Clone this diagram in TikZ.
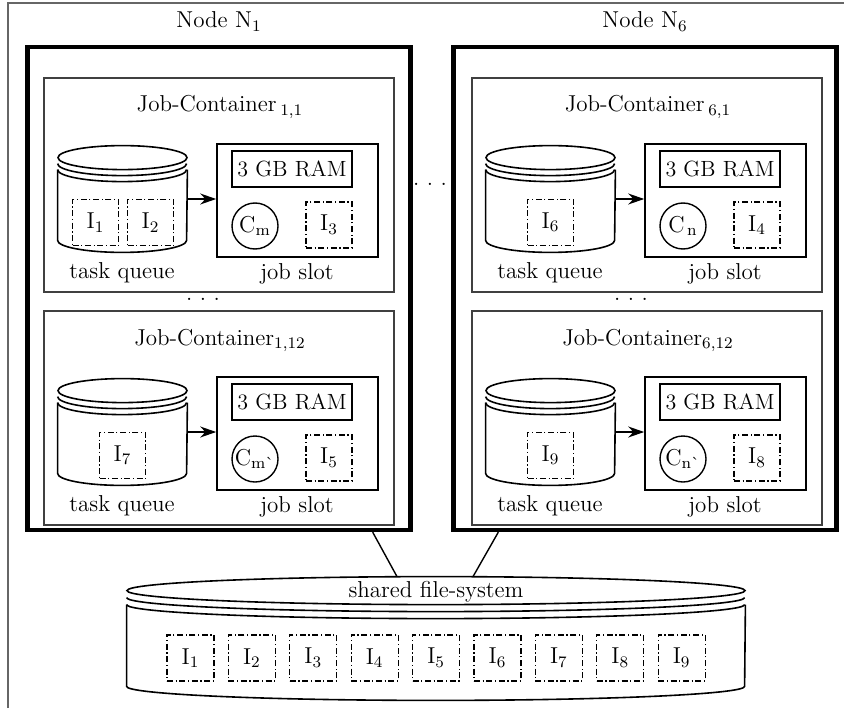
\documentclass[tikz,border=0pt]{standalone}
\usepackage{tikz}
\usetikzlibrary{positioning,calc,arrows.meta}

% storage drum drawn round an empty node: name, x radius, y radius, rim step
\newcommand{\tank}[4]{%
  \draw[tank line] ($(#1.north)+(0,-#3)$) ellipse [x radius=#2, y radius=#3];
  \foreach \k in {1,2}
    \draw[tank line] ($(#1.north west)+(0,-#3-\k*#4)$) arc [start angle=180, end angle=360, x radius=#2, y radius=#3];
  \draw[tank line] ($(#1.north west)+(0,-#3-2*#4)$) -- ($(#1.south west)+(0,#3)$)
    arc [start angle=180, end angle=360, x radius=#2, y radius=#3] -- ($(#1.north east)+(0,-#3-2*#4)$);
}

\begin{document}
\begin{tikzpicture}[x=0.5pt, y=0.5pt, font=\fontsize{11.5}{14}\selectfont,
  node box/.style={draw, line width=2.2pt, minimum width=191.5pt, minimum height=241.5pt},
  container/.style={draw=black!75, line width=0.6pt, minimum width=175pt, minimum height=107pt},
  queue/.style={minimum width=64.5pt, minimum height=53pt, inner sep=0pt},
  tank line/.style={line width=0.8pt},
  slot/.style={draw, line width=0.8pt, minimum width=80.5pt, minimum height=56.5pt},
  ram/.style={draw, line width=0.8pt, minimum width=60pt, minimum height=18pt, inner sep=0pt, font=\fontsize{11}{13}\selectfont},
  core/.style={draw, circle, line width=0.7pt, minimum size=23pt, inner sep=0pt},
  img/.style={draw, line width=0.55pt, dash pattern=on 3pt off 1.3pt on 0.6pt off 1.3pt, minimum width=23pt, minimum height=23pt, inner sep=0pt},
  flow/.style={-{Stealth[length=8pt,width=5.5pt]}, line width=0.8pt},
  link/.style={line width=0.7pt}]
  \useasboundingbox (0,0) rectangle (844,708);
  \draw[black!60, line width=0.6pt] (8,0) -- (8,705) -- (844,705);

  % compute nodes
  \node[node box] (n1) at (219,419.5) {};
  \node[node box] (n6) at (645,419.5) {};
  \node[anchor=base] (n1lbl) at (219,680) {Node N\textsubscript{1}};
  \node[anchor=base] (n6lbl) at (645,680) {Node N\textsubscript{6}};
  \node (ndots) at (430,524) {.~.~.};

  % job containers
  \foreach \ci/\cx/\cy/\sub/\cm/\si/\qs in {
      11/219/523/{\,\textsubscript{1,1}}/m/3/{-27/1,28/2},
      112/219/290/{\textsubscript{1,12}}/{m\textasciigrave}/5/{0/7},
      61/647/523/{\,\textsubscript{6,1}}/{\,n}/4/{0/6},
      612/647/290/{\textsubscript{6,12}}/{n\textasciigrave}/8/{0/9}} {
    \node[container] (c\ci) at (\cx,\cy) {};
    \node[anchor=base] (t\ci) at (\cx+1,\cy+73) {Job-Container\sub};
    \node[queue] (q\ci) at (\cx-96.5,\cy-14) {};
    \tank{q\ci}{64.5}{12}{6}
    \foreach \qx/\ql in \qs
      \node[img] (qi\ql) at (\cx-96.5+\qx,\cy-37.5) {I\textsubscript{\ql}};
    \node[slot] (s\ci) at (\cx+78.5,\cy-15.5) {};
    \node[ram] (r\ci) at (\cx+73,\cy+16) {3 GB RAM};
    \node[core] (k\ci) at (\cx+36,\cy-41) {C\textsubscript{\cm}};
    \node[img] (si\si) at (\cx+110,\cy-40) {I\textsubscript{\si}};
    \node[anchor=base] (tq\ci) at (\cx-97,\cy-93) {task queue};
    \node[anchor=base] (js\ci) at (\cx+78,\cy-94) {job slot};
    \draw[flow] (q\ci.east) -- (q\ci.east -| s\ci.west);
  }
  \node (cdots1) at (203,409) {.~.~.};
  \node (cdots6) at (631,409) {.~.~.};

  % shared storage
  \node[minimum width=309pt, minimum height=61.5pt, inner sep=0pt] (fs) at (436,69.5) {};
  \tank{fs}{309}{14}{7}
  \node[anchor=base] (fslbl) at (436,111) {shared file-system};
  \foreach \k in {1,...,9}
    \node[img, minimum width=23.5pt] (fi\k) at ({190.5+61.4*(\k-1)},50) {I\textsubscript{\k}};

  \draw[link] ([xshift=-20pt]n1.south east) -- ([xshift=-19.5pt]fs.north);
  \draw[link] ([xshift=23.5pt]n6.south west) -- ([xshift=18.5pt]fs.north);
\end{tikzpicture}
\end{document}
